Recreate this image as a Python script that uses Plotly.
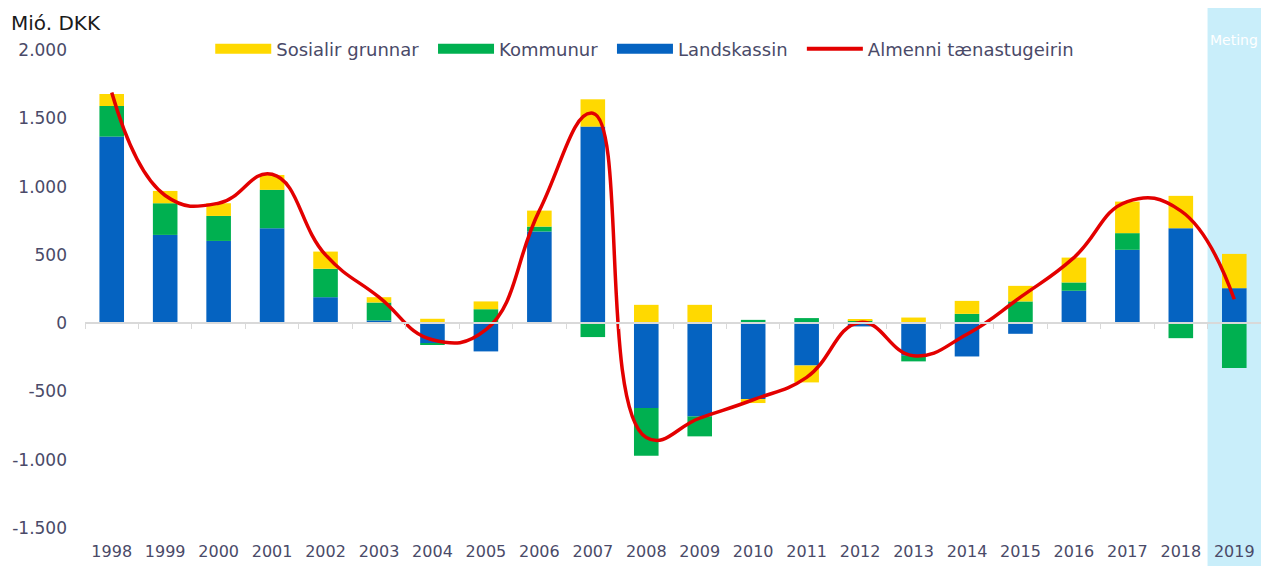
import plotly.graph_objects as go

years = [str(y) for y in range(1998, 2020)]
landskassin = [1366, 646, 602, 695, 190, 20, -146, -207, 671, 1439, -622, -683,
               -556, -310, -24, -239, -244, -78, 237, 537, 695, 256]
kommunur = [224, 232, 183, 281, 208, 131, -8, 102, 36, -102, -349, -146,
            24, 37, 20, -41, 68, 159, 61, 122, -110, -329]
sosialir = [88, 90, 93, 109, 126, 39, 32, 57, 117, 200, 134, 134,
            -29, -124, 9, 41, 95, 114, 182, 231, 237, 251]
almenni = [1688, 935, 878, 1090, 500, 190, -122, -48, 824, 1537, -837, -695,
           -561, -397, 5, -239, -81, 190, 480, 890, 822, 175]

ytick_vals = [-1500, -1000, -500, 0, 500, 1000, 1500, 2000]
ytick_text = ["-1.500", "-1.000", "-500", "0", "500", "1.000", "1.500", "2.000"]

C_YEL = "#FFD900"
C_GRN = "#00B050"
C_BLU = "#0563C1"
C_RED = "#E30000"
TXT = "#4A4A68"
FONT = "DejaVu Sans"

fig = go.Figure()
for name, vals, col in [("Landskassin", landskassin, C_BLU),
                        ("Kommunur", kommunur, C_GRN),
                        ("Sosialir grunnar", sosialir, C_YEL)]:
    fig.add_trace(go.Bar(x=years, y=vals, name=name, marker_color=col,
                         marker_line_width=0, showlegend=False, legendgroup=name))

fig.add_trace(go.Scatter(x=years, y=almenni, name="Almenni tænastugeirin",
                         mode="lines", line=dict(color=C_RED, width=3.5, shape="spline", smoothing=1.3),
                         showlegend=False, legendgroup="Almenni tænastugeirin"))

# legend entries
for name, col in [("Sosialir grunnar", C_YEL), ("Kommunur", C_GRN),
                  ("Landskassin", C_BLU), ("Almenni tænastugeirin", C_RED)]:
    w = 10 if col != C_RED else 4
    label = name + "\u00a0\u2009" if col != C_RED else name
    fig.add_trace(go.Scatter(x=[None], y=[None], mode="lines", name=label,
                             line=dict(color=col, width=w), legendgroup=name))

# zero axis with boundary ticks
fig.add_trace(go.Scatter(x=years, y=[None] * len(years), xaxis="x2", yaxis="y",
                         showlegend=False, hoverinfo="skip"))

# page has an 8px body margin; size the figure so the plot area sits where the reference has it
fig.update_layout(
    width=1261, height=558,
    margin=dict(l=77, r=8, t=42, b=38, autoexpand=False),
    paper_bgcolor="white", plot_bgcolor="rgba(0,0,0,0)",
    barmode="relative", bargap=0.54,
    font=dict(family=FONT, size=16, color=TXT),
    xaxis=dict(type="category", categoryorder="array", categoryarray=years,
               range=[-0.5, 21.5], showline=False, showgrid=False, ticks="",
               zeroline=False, tickfont=dict(size=16, color=TXT), ticklabelstandoff=12,
               automargin=False),
    xaxis2=dict(type="category", categoryorder="array", categoryarray=years,
                range=[-0.5, 21.5], overlaying="x", anchor="free", position=1500 / 3500,
                side="bottom", showline=True, linecolor="#D9D9D9", linewidth=1.5,
                ticks="outside", tickson="boundaries", ticklen=5, tickcolor="#D9D9D9",
                tickwidth=1, showticklabels=False, showgrid=False, automargin=False),
    yaxis=dict(range=[-1500, 2000], tickvals=ytick_vals, ticktext=ytick_text,
               showgrid=False, zeroline=False, showline=False, ticks="",
               tickfont=dict(size=17, color=TXT), ticklabelstandoff=17, automargin=False),
    legend=dict(orientation="h", x=0.1065, xanchor="left", y=1.002, yanchor="middle",
                font=dict(size=18, color=TXT), itemwidth=56, bgcolor="rgba(0,0,0,0)",
                traceorder="normal"),
    shapes=[
        dict(type="rect", xref="x", yref="paper", x0=20.5, x1=21.5, y0=-0.1, y1=1.1,
             fillcolor="#C9EEFA", line_width=0, layer="below"),
    ],
    annotations=[
        dict(text="Mió. DKK", xref="paper", yref="paper", x=-0.0645, y=1.0565,
             xanchor="left", yanchor="middle", showarrow=False,
             font=dict(size=20, color="#1A1A1A")),
        dict(text="Meting", xref="x", yref="paper", x=21, y=1.021,
             xanchor="center", yanchor="middle", showarrow=False,
             font=dict(size=14, color="white")),
    ],
)

fig.write_html("out.html")
